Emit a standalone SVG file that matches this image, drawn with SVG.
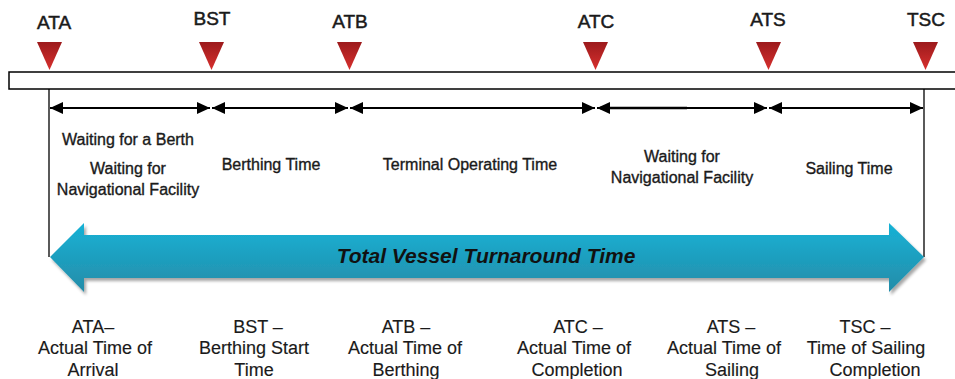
<svg xmlns="http://www.w3.org/2000/svg" width="955" height="379" viewBox="0 0 955 379">
  <style>
    text { font-family: "Liberation Sans", Arial, sans-serif; fill: #1a1a1a; text-anchor: middle; }
    .top { font-size: 19px; stroke: #1a1a1a; stroke-width: 0.5px; }
    .mid { font-size: 16px; stroke: #1a1a1a; stroke-width: 0.35px; }
    .bot { font-size: 18px; stroke: #1a1a1a; stroke-width: 0.15px; }
    .total { font-size: 21px; font-weight: bold; font-style: italic; fill: #111; }
    .tri { fill: url(#redGrad); }
    .seg { stroke: #000; stroke-width: 2; fill: none; marker-start: url(#ah); marker-end: url(#ah); }
    .vline { stroke: #000; stroke-width: 1.3; fill: none; }
  </style>
  <defs>
    <linearGradient id="redGrad" x1="0" y1="0" x2="0" y2="1">
      <stop offset="0" stop-color="#9c1a1c"/>
      <stop offset="1" stop-color="#d8302e"/>
    </linearGradient>
    <linearGradient id="blueGrad" x1="0" y1="0" x2="0" y2="1">
      <stop offset="0" stop-color="#17b2d6"/>
      <stop offset="1" stop-color="#258ca8"/>
    </linearGradient>
    <filter id="shadow" x="-5%" y="-20%" width="110%" height="150%">
      <feDropShadow dx="2" dy="3" stdDeviation="1.5" flood-color="#000" flood-opacity="0.35"/>
    </filter>
    <marker id="ah" viewBox="0 0 13 12" refX="13" refY="6" markerWidth="13" markerHeight="12" markerUnits="userSpaceOnUse" orient="auto-start-reverse">
      <path d="M0,0 L13,6 L0,12 z" fill="#000"/>
    </marker>
  </defs>

  <rect width="955" height="379" fill="#fff"/>

  <!-- timeline bar -->
  <g id="timeline-bar">
    <rect x="9" y="72" width="960" height="17" fill="#fff" stroke="#000" stroke-width="1.5"/>
  </g>

  <!-- milestones -->
  <g id="ms-ata">
    <text class="top" x="54" y="29">ATA</text>
    <polygon class="tri" points="37,42 62,42 49.5,70"/>
  </g>
  <g id="ms-bst">
    <text class="top" x="212" y="25">BST</text>
    <polygon class="tri" points="199,42 224,42 211.5,70"/>
  </g>
  <g id="ms-atb">
    <text class="top" x="350" y="28">ATB</text>
    <polygon class="tri" points="337,42 362,42 349.5,70"/>
  </g>
  <g id="ms-atc">
    <text class="top" x="596" y="28">ATC</text>
    <polygon class="tri" points="583,42 608,42 595.5,70"/>
  </g>
  <g id="ms-ats">
    <text class="top" x="768" y="26">ATS</text>
    <polygon class="tri" points="756,42 781,42 768.5,70"/>
  </g>
  <g id="ms-tsc">
    <text class="top" x="926" y="26">TSC</text>
    <polygon class="tri" points="913,42 938,42 925.5,70"/>
  </g>

  <!-- connectors -->
  <g id="connectors">
    <line class="vline" x1="49" y1="89" x2="49" y2="257"/>
    <line class="vline" x1="924" y1="89" x2="924" y2="257"/>
    <line class="seg" x1="50" y1="108" x2="210" y2="108"/>
    <line class="seg" x1="212" y1="108" x2="348" y2="108"/>
    <line class="seg" x1="350" y1="108" x2="595" y2="108"/>
    <line class="seg" x1="597" y1="108" x2="767" y2="108"/>
    <line x1="600" y1="108" x2="687" y2="108" stroke="#000" stroke-width="2.6"/>
    <line class="seg" x1="769" y1="108" x2="923" y2="108"/>
  </g>

  <!-- interval labels -->
  <g id="int-waiting-berth">
    <text class="mid" x="128" y="145">Waiting for a Berth</text>
    <text class="mid" x="128" y="174">Waiting for</text>
    <text class="mid" x="128" y="195">Navigational Facility</text>
  </g>
  <g id="int-berthing">
    <text class="mid" x="271" y="170">Berthing Time</text>
  </g>
  <g id="int-terminal">
    <text class="mid" x="470" y="170">Terminal Operating Time</text>
  </g>
  <g id="int-waiting-nav">
    <text class="mid" x="682" y="162">Waiting for</text>
    <text class="mid" x="682" y="183">Navigational Facility</text>
  </g>
  <g id="int-sailing">
    <text class="mid" x="849" y="174">Sailing Time</text>
  </g>

  <!-- total arrow -->
  <g id="total-turnaround">
    <path d="M50,257 L84,223 L84,235 L889,235 L889,223 L924,257 L889,292 L889,278 L84,278 L84,292 Z" fill="url(#blueGrad)" filter="url(#shadow)"/>
    <text class="total" x="486" y="263">Total Vessel Turnaround Time</text>
  </g>

  <!-- legend -->
  <g id="def-ata">
    <text class="bot" x="93" y="333">ATA–</text>
    <text class="bot" x="95" y="354">Actual Time of</text>
    <text class="bot" x="93" y="376">Arrival</text>
  </g>
  <g id="def-bst">
    <text class="bot" x="258" y="333">BST –</text>
    <text class="bot" x="254" y="354">Berthing Start</text>
    <text class="bot" x="254" y="376">Time</text>
  </g>
  <g id="def-atb">
    <text class="bot" x="406" y="333">ATB –</text>
    <text class="bot" x="405" y="354">Actual Time of</text>
    <text class="bot" x="406" y="376">Berthing</text>
  </g>
  <g id="def-atc">
    <text class="bot" x="578" y="333">ATC –</text>
    <text class="bot" x="574" y="354">Actual Time of</text>
    <text class="bot" x="577" y="376">Completion</text>
  </g>
  <g id="def-ats">
    <text class="bot" x="731" y="333">ATS –</text>
    <text class="bot" x="724" y="354">Actual Time of</text>
    <text class="bot" x="732" y="376">Sailing</text>
  </g>
  <g id="def-tsc">
    <text class="bot" x="865" y="333">TSC –</text>
    <text class="bot" x="866" y="354">Time of Sailing</text>
    <text class="bot" x="875" y="376">Completion</text>
  </g>
</svg>
